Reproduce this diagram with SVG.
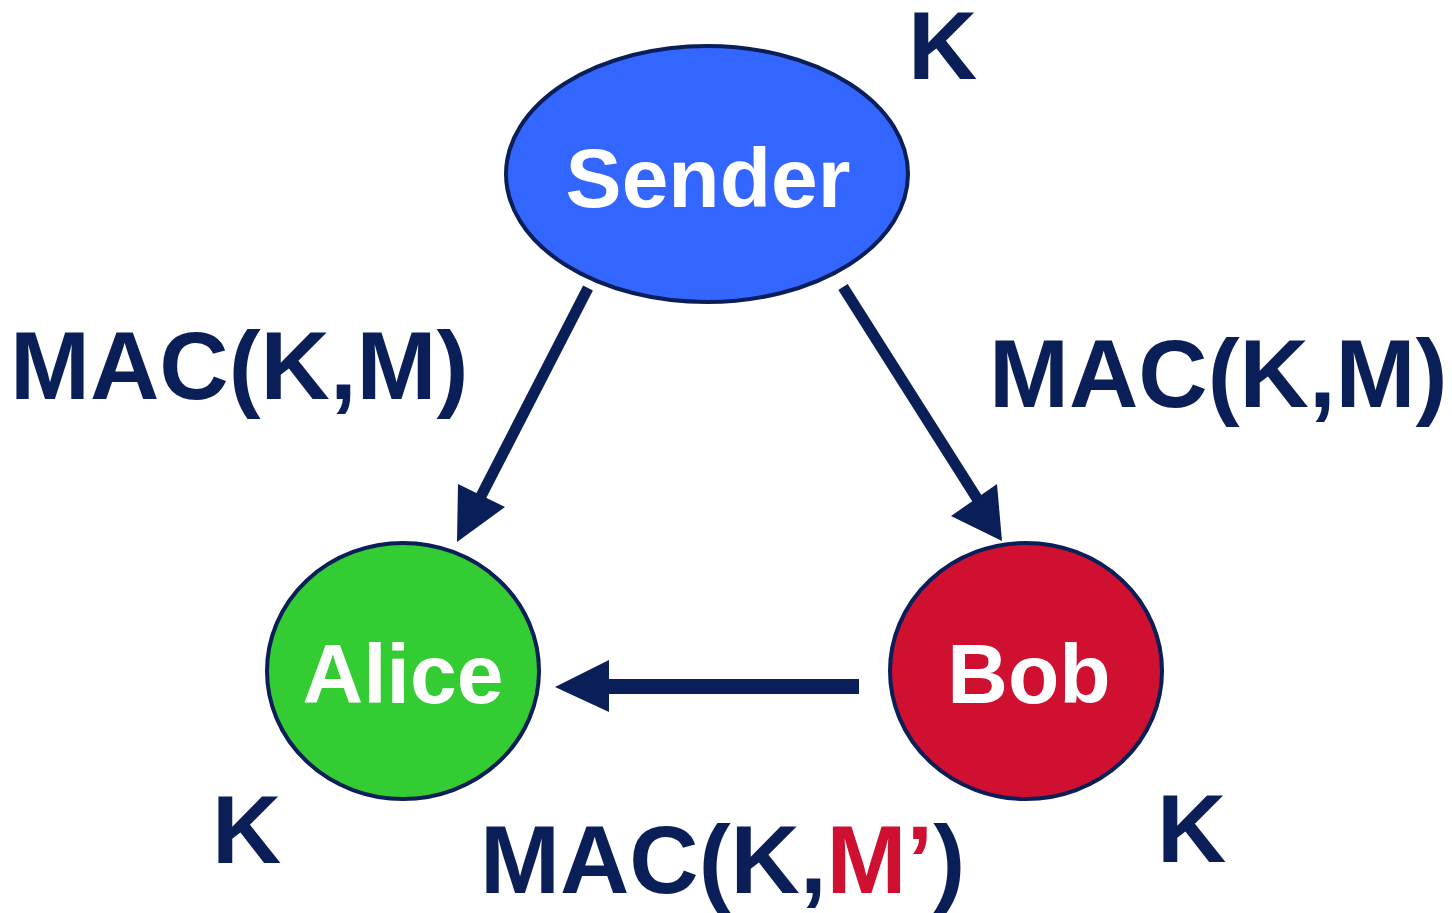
<svg xmlns="http://www.w3.org/2000/svg" width="1452" height="913" viewBox="0 0 1452 913">
<style>
.node{stroke:#0A1E58;stroke-width:4}
.lbl{font-family:"Liberation Sans",Arial,sans-serif;font-weight:bold;fill:#0A1E58;font-size:96px}
.nm{font-family:"Liberation Sans",Arial,sans-serif;font-weight:bold;fill:#FFFFFF;font-size:84px;text-anchor:middle}
.ln{stroke:#0A1E58;fill:none}
.hd{fill:#0A1E58}
</style>
<rect width="1452" height="913" fill="#FFFFFF"/>
<g id="connectors">
<line class="ln" x1="588" y1="288" x2="478" y2="502" stroke-width="11"/>
<polygon class="hd" points="457,542 458,484 505,507"/>
<line class="ln" x1="843" y1="287" x2="978" y2="500" stroke-width="11"/>
<polygon class="hd" points="1002,541 951,516 997,484"/>
<line class="ln" x1="859" y1="686.5" x2="600" y2="686.5" stroke-width="15"/>
<polygon class="hd" points="555,687 609,660 609,712"/>
</g>
<g id="sender">
<ellipse class="node" cx="707" cy="174" rx="201" ry="128" fill="#3366FF"/>
<text class="nm" x="708" y="207">Sender</text>
</g>
<g id="alice">
<ellipse class="node" cx="403" cy="671" rx="136" ry="128" fill="#33CC33"/>
<text class="nm" x="403" y="703">Alice</text>
</g>
<g id="bob">
<ellipse class="node" cx="1026" cy="671" rx="136" ry="128" fill="#D01030"/>
<text class="nm" x="1029" y="703">Bob</text>
</g>
<g id="labels">
<text class="lbl" x="908" y="79">K</text>
<text class="lbl" x="212" y="863">K</text>
<text class="lbl" x="1157" y="862">K</text>
<text class="lbl" x="10" y="399">MAC(K,M)</text>
<text class="lbl" x="989" y="407">MAC(K,M)</text>
<text class="lbl" x="480" y="893">MAC(K,<tspan fill="#D01030">M’</tspan>)</text>
</g>
</svg>
